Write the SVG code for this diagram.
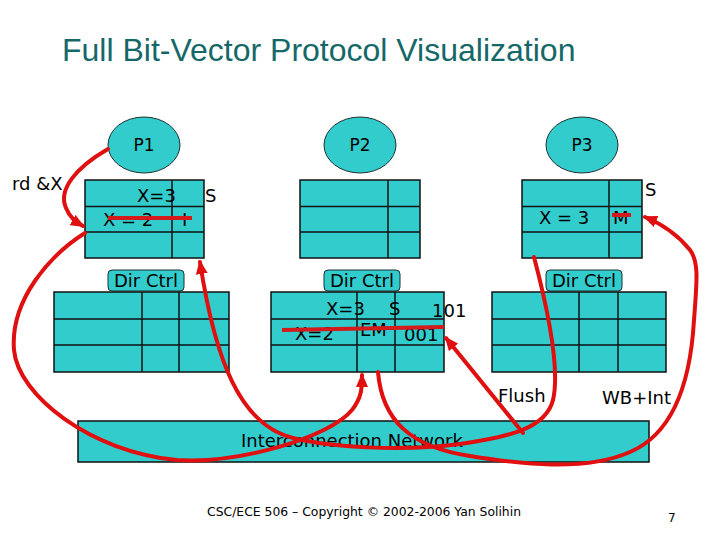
<svg xmlns="http://www.w3.org/2000/svg" width="720" height="540" viewBox="0 0 720 540">
<defs>
<style>
.cell{fill:#33CCCC;stroke:#111;stroke-width:1.5}
.grid{stroke:#111;stroke-width:1.5;fill:none}
.proc{fill:#33CCCC;stroke:#1a3030;stroke-width:1}
.lbl{fill:#33CCCC;stroke:#1a3030;stroke-width:1}
.t{font-family:"DejaVu Sans",Verdana,sans-serif;font-size:18px;fill:#000}
.tp{font-family:"DejaVu Sans",Verdana,sans-serif;font-size:17px;fill:#000;text-anchor:middle}
.red{fill:none;stroke:#E01010;stroke-width:4;stroke-linecap:round}
.strike{stroke:#D41A1A;stroke-width:4}
</style>
<marker id="ah" markerUnits="userSpaceOnUse" markerWidth="14" markerHeight="12" refX="12" refY="6" orient="auto">
<path d="M0,0 L14,6 L0,12 z" fill="#E01010"/>
</marker>
</defs>
<rect width="720" height="540" fill="#fff"/>
<text x="62" y="61" font-family="'Liberation Sans',Arial,sans-serif" font-size="32" fill="#156868">Full Bit-Vector Protocol Visualization</text>

<g id="P1">
<ellipse class="proc" cx="144" cy="145" rx="36" ry="28"/>
<text class="tp" x="144" y="151">P1</text>
</g>
<g id="P2">
<ellipse class="proc" cx="360" cy="145" rx="36" ry="28"/>
<text class="tp" x="360" y="151">P2</text>
</g>
<g id="P3">
<ellipse class="proc" cx="582" cy="145" rx="36" ry="28"/>
<text class="tp" x="582" y="151">P3</text>
</g>

<g id="cache1">
<rect class="cell" x="85" y="180" width="119" height="78"/>
<path class="grid" d="M85,206.5H204M85,232H204M172,180V258"/>
<text class="t" x="137" y="202">X=3</text>
<text class="t" x="103" y="226">X = 2</text>
<text class="t" x="182" y="226">I</text>
<line class="strike" x1="108" y1="218" x2="192" y2="218"/>
<text class="t" x="205" y="202">S</text>
</g>
<g id="cache2">
<rect class="cell" x="300" y="180" width="120" height="78"/>
<path class="grid" d="M300,206.5H420M300,232H420M388,180V258"/>
</g>
<g id="cache3">
<rect class="cell" x="522" y="180" width="120" height="78"/>
<path class="grid" d="M522,206.5H642M522,232H642M609,180V258"/>
<text class="t" x="539" y="224">X = 3</text>
<text class="t" x="613" y="224">M</text>
<line class="strike" x1="612" y1="215" x2="631" y2="215"/>
<text class="t" x="645" y="196">S</text>
</g>

<g id="dir1">
<rect class="lbl" x="108" y="270" width="76" height="21" rx="4"/>
<text class="t" x="114" y="287">Dir Ctrl</text>
<rect class="cell" x="54" y="292" width="175" height="80"/>
<path class="grid" d="M54,319H229M54,345H229M142,292V372M179,292V372"/>
</g>
<g id="dir2">
<rect class="lbl" x="324" y="270" width="76" height="21" rx="4"/>
<text class="t" x="330" y="287">Dir Ctrl</text>
<rect class="cell" x="271" y="292" width="173" height="80"/>
<path class="grid" d="M271,319H444M271,345H444M357,292V372M395,292V372"/>
<text class="t" x="326" y="315">X=3</text>
<text class="t" x="389" y="315">S</text>
<text class="t" x="432" y="317">101</text>
<text class="t" x="295" y="340">X=2</text>
<text class="t" x="360" y="336">EM</text>
<text class="t" x="404" y="341">001</text>
<line class="strike" x1="282" y1="330" x2="444" y2="327"/>
</g>
<g id="dir3">
<rect class="lbl" x="546" y="270" width="76" height="21" rx="4"/>
<text class="t" x="552" y="287">Dir Ctrl</text>
<rect class="cell" x="492" y="292" width="174" height="80"/>
<path class="grid" d="M492,319H666M492,345H666M579,292V372M618,292V372"/>
</g>

<g id="network">
<rect class="cell" x="78" y="421" width="571" height="41"/>
<text class="t" x="241" y="447">Interconnection Network</text>
</g>

<g id="connectors">
<path class="red" marker-end="url(#ah)" d="M108,149 C75,168 58,190 66,208 C70,218 76,222 83,226"/>
<path class="red" marker-end="url(#ah)" d="M85,233 C50,255 10,300 14,350 C18,395 90,452 177,460 C240,464 330,437 352,410 C362,397 362,388 362,375"/>
<path class="red" marker-end="url(#ah)" d="M534,257 C548,310 560,370 553,400 C546,428 510,437 460,444 C400,452 330,447 293,438 C240,425 215,360 200,262"/>
<path class="red" marker-end="url(#ah)" d="M523,433 L446,338"/>
<path class="red" marker-end="url(#ah)" d="M378,372 C382,420 410,447 470,456 C520,464 585,472 630,452 C670,435 690,390 694,320 C697,280 699,262 690,250 C678,235 662,224 645,217"/>
<text class="t" x="12" y="190">rd &amp;X</text>
<text class="t" x="498" y="402" font-size="17">Flush</text>
<text class="t" x="602" y="404">WB+Int</text>
</g>

<text x="207" y="516" font-family="'DejaVu Sans',Tahoma,sans-serif" font-size="11.5" fill="#000" textLength="314" lengthAdjust="spacingAndGlyphs">CSC/ECE 506 – Copyright © 2002-2006 Yan Solihin</text>
<text x="668" y="522" font-family="'DejaVu Sans',Tahoma,sans-serif" font-size="12" fill="#000">7</text>
</svg>
